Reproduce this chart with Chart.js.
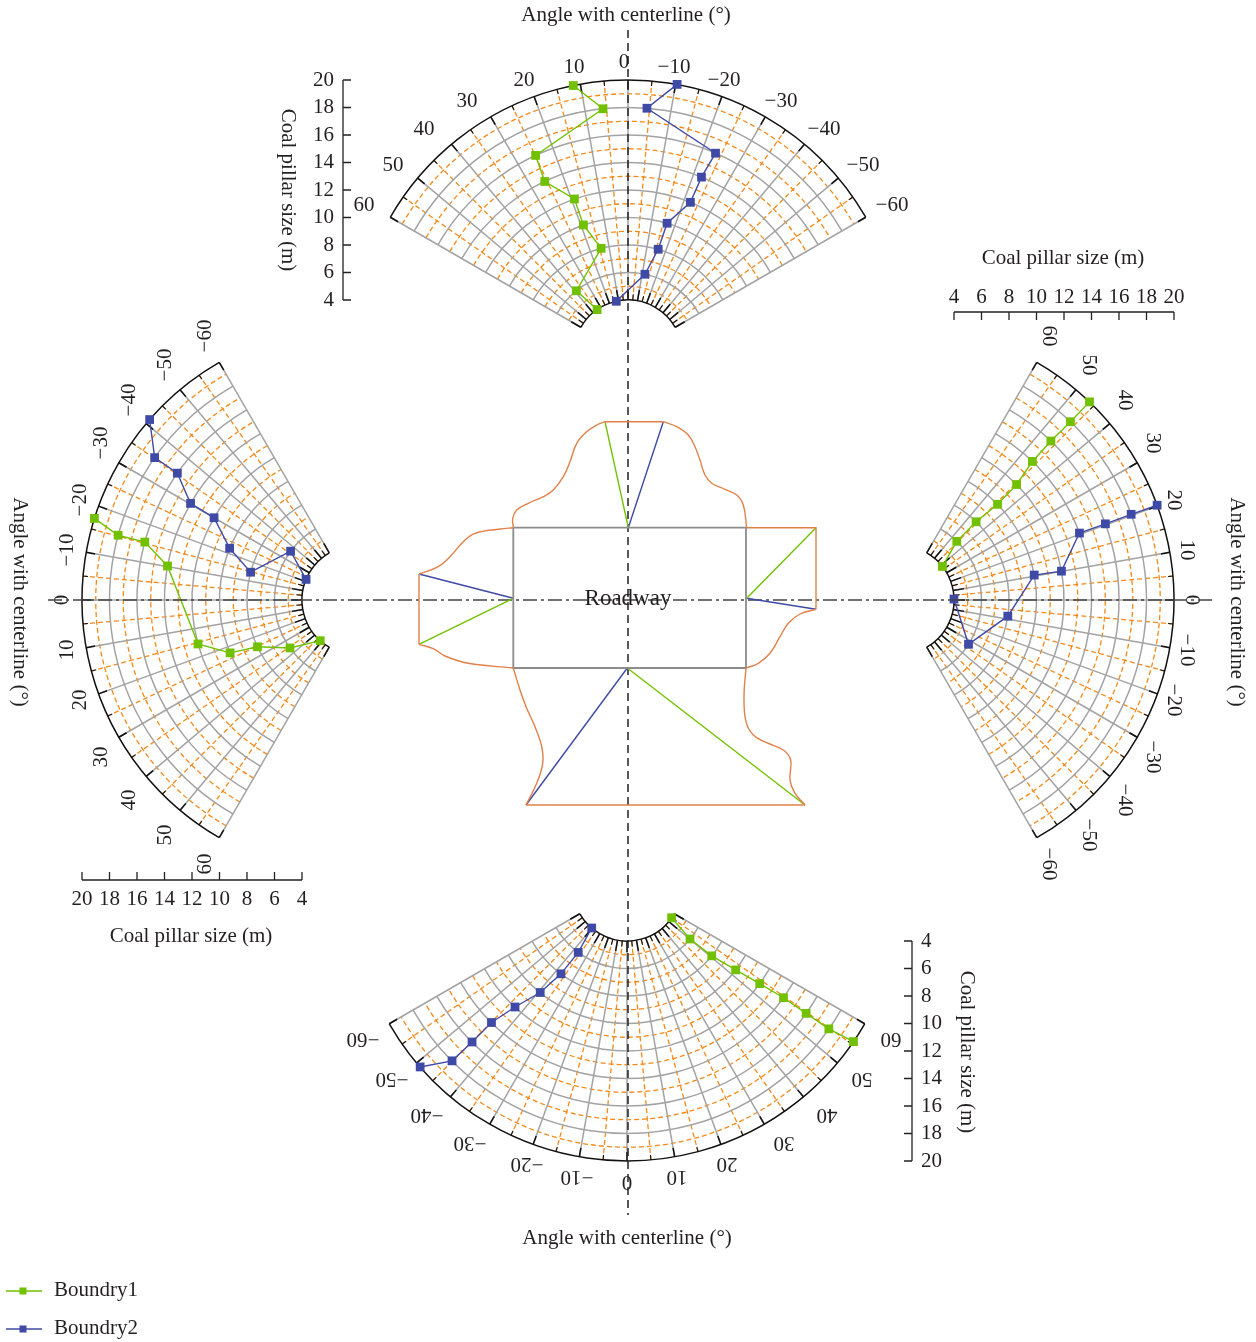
<!DOCTYPE html>
<html>
  <head>
    <title>Coal pillar size</title>
    <style>
      html, body { margin: 0; padding: 0; background: #fff; }
      canvas { display: block; }
    </style>
  </head>
  <body>
    <canvas id="canvas" width="1256" height="1342"></canvas>
    <script src="https://cdn.jsdelivr.net/npm/chart.js@4"></script>
    <script>
      // coal pillar size of every measuring point, outer to inner
      const pillarSizes = [20, 18, 16, 14, 12, 10, 8, 6, 4];

      // angle with centerline read for each size, one list per fan
      const topBoundry1 = [11.5, 5.8, 24.9, 25.7, 19, 19, 14.2, 39, 34.5];
      const topBoundry2 = [-10.3, -4.4, -23.5, -22.5, -22.3, -16.6, -16, -11.9, 12.4];
      const leftBoundry1 = [-17.3, -15.2, -15.3, -10.2, 15.5, 22.7, 25.3, 35.8, 48.3];
      const leftBoundry2 = [-41.1, -35.2, -35.3, -30.2, -30, -22.2, -14.7, -36.5, -22.2];
      const rightBoundry1 = [46.2, 46.2, 46.4, 46.2, 44.6, 44.3, 45.6, 45.7, 38];
      const rightBoundry2 = [20.2, 20.3, 20.3, 20.4, 10.1, 10.5, -8.5, -32.7, 1];
      const bottomBoundry1 = [55.6, 54.8, 54.7, 54.6, 53.8, 52.5, 50.7, 50.2, 55];
      const bottomBoundry2 = [-48.9, -45.1, -44.9, -44.9, -42.9, -39.3, -37.1, -36.5, -40.4];

      const angleTicks = [-60, -50, -40, -30, -20, -10, 0, 10, 20, 30, 40, 50, 60];
      const sizeTicks = [4, 6, 8, 10, 12, 14, 16, 18, 20];

      // roadway drawing, measured from the crossing of the two centerlines
      const roofCurveL = [[-114.7, 72.3], [-115.3, 81.7], [-111.3, 90], [-99.7, 96.7], [-84.7, 103.3], [-74.7, 110], [-64.7, 123.3], [-58, 138.3], [-51.3, 156.7], [-41.3, 168.3], [-31.3, 175], [-23, 178.3]];
      const roofFlat = [[-23, 178.3], [35.3, 178.3]];
      const roofCurveR = [[35.3, 178.3], [48.7, 173.3], [60.3, 165], [67, 153.3], [72, 140], [77, 125], [83.7, 116.7], [97, 110.7], [108.7, 105], [115.3, 95], [118.7, 72.3]];
      const sideFlatR = [[118.7, 72.3], [188, 72.3], [188, -9.3]];
      const sideCurveR = [[188, -9.3], [172, -14], [160.3, -23.3], [152, -36.7], [142, -53.3], [130.3, -63.3], [118, -68]];
      const sideCurveL1 = [[-114.7, 72.3], [-128, 71], [-153, 66.7], [-164.7, 58.3], [-178, 43.3], [-189.7, 33.3], [-209, 26]];
      const sideFlatL = [[-209, 26], [-209, -44.3]];
      const sideCurveL2 = [[-209, -44.3], [-194.7, -48.7], [-183, -56], [-159.7, -63.3], [-114.7, -68]];
      const floorCurveL = [[-114.7, -68], [-108, -90], [-101.3, -108.3], [-93, -126.7], [-86.3, -146.7], [-85.3, -163.3], [-91.3, -183.3], [-102, -205]];
      const floorFlat = [[-102, -205], [177, -205]];
      const floorCurveR = [[177, -205], [167, -193.3], [162, -180], [162.7, -160], [155.3, -150], [138.7, -142.7], [125.3, -135], [118, -121.7], [116, -96.7], [118, -68]];
      const roadwayRect = [[-114.7, 72.3], [118, 72.3], [118, -68], [-114.7, -68], [-114.7, 72.3]];
      const raysBoundry1 = [[[0.3, 72.3], [-23, 178.3]], [[118.7, 1.7], [188, 72.3]], [[-114.7, 1.7], [-209, -44.3]], [[-0.7, -68], [177, -205]]];
      const raysBoundry2 = [[[0.3, 72.3], [35.3, 178.3]], [[118.7, 1.7], [188, -9.3]], [[-114.7, 1.7], [-209, 26]], [[-0.7, -68], [-102, -205]]];

      const GREEN = '#72c100';
      const BLUE = '#3f4aa6';
      const OUTLINE = '#e0814a';
      const GRID = '#a3a3a3';
      const MINOR = '#f5891a';
      const INK = '#231f20';
      const FONT = '21px "Liberation Serif"';

      const INNER_R = 54.5;
      const PX_PER_M = 13.75;
      const radiusOf = (size) => INNER_R + (size - 4) * PX_PER_M;
      const rad = (deg) => (deg * Math.PI) / 180;

      // where the angle labels sit from the fan centre, by size of the angle
      const labelRadial = { 0: 294, 10: 289, 20: 276, 30: 255, 40: 227, 50: 191, 60: 151 };
      const labelLateral = { 0: 0, 10: 50, 20: 100, 30: 157, 40: 200, 50: 235, 60: 264 };

      const fans = [
        { cx: 0, cy: 245.5, base: 90, rot: 0, b1: topBoundry1, b2: topBoundry2, axisOff: 285, labelShift: -4, labelIn: 1,
          sizeLabel: { dx: -9, dy: -1, align: 'right' }, sizeTitle: [289, 190, 90], angleTitle: [626, 14, 0] },
        { cx: 271.5, cy: 0, base: 0, rot: 90, b1: rightBoundry1, b2: rightBoundry2, axisOff: 288, labelShift: 0, labelIn: 1,
          sizeLabel: { dx: 0, dy: -16, align: 'center' }, sizeTitle: [1063, 257, 0], angleTitle: [1238, 602, 90] },
        { cx: -271.5, cy: 0, base: 180, rot: -90, b1: leftBoundry1, b2: leftBoundry2, axisOff: 280, labelShift: 0, labelIn: -1,
          sizeLabel: { dx: 0, dy: 18, align: 'center' }, sizeTitle: [191, 935, 0], angleTitle: [21, 602, 90] },
        { cx: -1, cy: -286.5, base: 270, rot: 180, b1: bottomBoundry1, b2: bottomBoundry2, axisOff: 285, labelShift: 0, labelIn: -2,
          sizeLabel: { dx: 9, dy: -1, align: 'left' }, sizeTitle: [968, 1052, 90], angleTitle: [627, 1237, 0] },
      ];

      function fanPoints(fan, angles) {
        return angles.map((angle, i) => {
          const r = radiusOf(pillarSizes[i]);
          const phi = rad(fan.base + angle);
          return { x: fan.cx + r * Math.cos(phi), y: fan.cy + r * Math.sin(phi) };
        });
      }

      function shape(points, color, width, extra) {
        return Object.assign({
          data: points.map((p) => ({ x: p[0], y: p[1] })),
          showLine: true,
          borderColor: color,
          borderWidth: width,
          pointRadius: 0,
          fill: false,
        }, extra);
      }

      function series(label, points, color) {
        return {
          label: label,
          data: points,
          showLine: true,
          borderColor: color,
          backgroundColor: color,
          borderWidth: 1.4,
          pointStyle: 'rect',
          pointRadius: 6.2,
          pointBorderWidth: 0,
        };
      }

      const datasets = [];
      [roofCurveL, roofCurveR, sideCurveR, sideCurveL1, sideCurveL2, floorCurveL, floorCurveR].forEach((c) => {
        datasets.push(shape(c, OUTLINE, 1.4, { tension: 0.4 }));
      });
      [roofFlat, sideFlatR, sideFlatL, floorFlat].forEach((c) => datasets.push(shape(c, OUTLINE, 1.4)));
      datasets.push(shape(roadwayRect, '#8c8c8c', 1.8));
      raysBoundry1.forEach((c) => datasets.push(shape(c, GREEN, 1.4)));
      raysBoundry2.forEach((c) => datasets.push(shape(c, BLUE, 1.4)));
      // centerlines
      datasets.push(shape([[0, 570], [0, -615]], '#222', 1.5, { borderDash: [8, 5] }));
      datasets.push(shape([[-580, 0], [584, 0]], '#444', 1.5, { borderDash: [14, 4, 3, 4] }));
      fans.forEach((fan) => {
        datasets.push(series('Boundry1', fanPoints(fan, fan.b1), GREEN));
        datasets.push(series('Boundry2', fanPoints(fan, fan.b2), BLUE));
      });

      function label(ctx, text, x, y, rot, align, font) {
        ctx.save();
        ctx.translate(x, y);
        ctx.rotate(rad(rot || 0));
        ctx.font = font || FONT;
        ctx.fillStyle = INK;
        ctx.textAlign = align || 'center';
        ctx.textBaseline = 'middle';
        ctx.fillText(text, 0, 1);
        ctx.restore();
      }

      function radial(ctx, theta, r1, r2) {
        const s = Math.sin(rad(theta));
        const c = Math.cos(rad(theta));
        ctx.beginPath();
        ctx.moveTo(-r1 * s, -r1 * c);
        ctx.lineTo(-r2 * s, -r2 * c);
        ctx.stroke();
      }

      function arc(ctx, r) {
        ctx.beginPath();
        ctx.arc(0, 0, r, rad(-150), rad(-30));
        ctx.stroke();
      }

      function drawFan(ctx, fan, px, py) {
        const outer = radiusOf(20);
        ctx.save();
        ctx.translate(px, py);
        ctx.rotate(rad(fan.rot));

        // minor grid
        ctx.strokeStyle = MINOR;
        ctx.lineWidth = 1.3;
        ctx.setLineDash([5, 3]);
        for (let s = 5; s < 20; s += 2) arc(ctx, radiusOf(s));
        for (let t = -55; t <= 55; t += 10) radial(ctx, t, INNER_R, outer);
        ctx.setLineDash([]);

        // major grid
        ctx.strokeStyle = GRID;
        ctx.lineWidth = 1.5;
        for (let s = 6; s < 20; s += 2) arc(ctx, radiusOf(s));
        angleTicks.forEach((t) => radial(ctx, t, INNER_R, outer));

        // border arcs and their ticks
        ctx.strokeStyle = '#111';
        ctx.lineWidth = 1.5;
        arc(ctx, INNER_R);
        arc(ctx, outer);
        for (let t = -60; t <= 60; t += 5) {
          const major = t % 10 === 0;
          ctx.lineWidth = major ? 1.5 : 1.1;
          radial(ctx, t, outer - (major ? 9 : 5), outer);
          radial(ctx, t, INNER_R, INNER_R + (major ? 11 : 6));
        }

        // angle labels
        angleTicks.forEach((t) => {
          const a = Math.abs(t);
          const text = t < 0 ? '\u2212' + a : String(t);
          const shift = a <= 40 ? fan.labelShift : 0;
          label(ctx, text, (t > 0 ? -1 : 1) * labelLateral[a] + shift, -labelRadial[a] + fan.labelIn, 0);
        });

        // size axis
        ctx.strokeStyle = '#222';
        ctx.lineWidth = 1.3;
        ctx.beginPath();
        ctx.moveTo(-fan.axisOff, -radiusOf(4));
        ctx.lineTo(-fan.axisOff, -radiusOf(20));
        sizeTicks.forEach((s) => {
          ctx.moveTo(-fan.axisOff, -radiusOf(s));
          ctx.lineTo(-fan.axisOff + 8, -radiusOf(s));
        });
        ctx.stroke();
        ctx.restore();

        // size labels stay upright
        const a = rad(fan.rot);
        sizeTicks.forEach((s) => {
          const lx = -fan.axisOff;
          const ly = -radiusOf(s);
          const x = px + lx * Math.cos(a) - ly * Math.sin(a);
          const y = py + lx * Math.sin(a) + ly * Math.cos(a);
          label(ctx, String(s), x + fan.sizeLabel.dx, y + fan.sizeLabel.dy, 0, fan.sizeLabel.align);
        });
        label(ctx, 'Coal pillar size (m)', fan.sizeTitle[0], fan.sizeTitle[1], fan.sizeTitle[2]);
        label(ctx, 'Angle with centerline (\u00b0)', fan.angleTitle[0], fan.angleTitle[1], fan.angleTitle[2]);
      }

      const fanGrid = {
        id: 'fanGrid',
        beforeDatasetsDraw(chart) {
          const { ctx, scales } = chart;
          fans.forEach((fan) => {
            drawFan(ctx, fan, scales.x.getPixelForValue(fan.cx), scales.y.getPixelForValue(fan.cy));
          });
        },
        afterDatasetsDraw(chart) {
          const { ctx, scales } = chart;
          label(ctx, 'Roadway', scales.x.getPixelForValue(0), scales.y.getPixelForValue(2), 0, 'center', '23px "Liberation Serif"');
          // legend: line with a square on it
          [['Boundry1', GREEN, 1291], ['Boundry2', BLUE, 1329]].forEach(([name, color, y]) => {
            ctx.strokeStyle = color;
            ctx.lineWidth = 1.4;
            ctx.beginPath();
            ctx.moveTo(6, y);
            ctx.lineTo(42, y);
            ctx.stroke();
            ctx.fillStyle = color;
            ctx.fillRect(19.5, y - 3.5, 7, 7);
            label(ctx, name, 54, y - 2, 0, 'left');
          });
        },
      };

      new Chart(document.getElementById('canvas').getContext('2d'), {
        type: 'scatter',
        data: { datasets: datasets },
        plugins: [fanGrid],
        options: {
          responsive: false,
          animation: false,
          layout: { padding: 0, autoPadding: false },
          plugins: { legend: { display: false }, tooltip: { enabled: false } },
          scales: {
            x: { type: 'linear', min: -628, max: 628, display: false },
            y: { type: 'linear', min: -742, max: 600, display: false },
          },
        },
      });
    </script>
  </body>
</html>
